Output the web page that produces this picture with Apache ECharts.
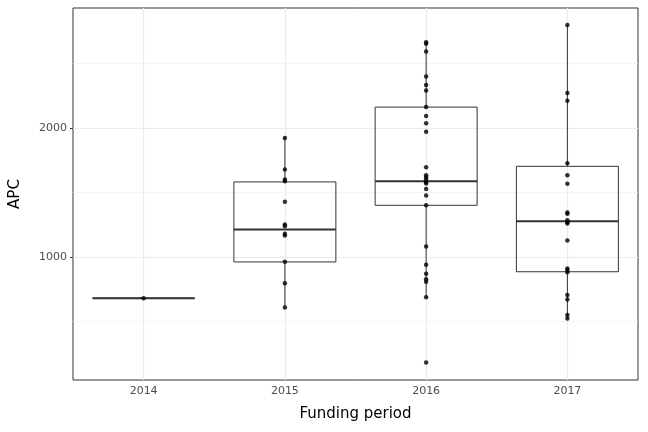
<!DOCTYPE html>
<html>
<head>
<meta charset="UTF-8">
<script src="https://cdn.jsdelivr.net/npm/echarts@6/dist/echarts.min.js"></script>
<style>
  * { margin: 0; padding: 0; }
  #main { width: 648px; height: 432px; }
</style>
</head>
<body>
<div id="main"></div>
<script>
// categories and values
var periods = ['2014', '2015', '2016', '2017'];
var apc2014 = [680];
var apc2015 = [1923, 1678, 1600, 1587, 1428, 1252, 1239, 1180, 1167, 964, 796, 608];
var apc2016 = [2665, 2652, 2592, 2399, 2333, 2291, 2162, 2093, 2036, 1971, 1695, 1633, 1618, 1600,
  1582, 1569, 1528, 1476, 1401, 1082, 941, 871, 827, 809, 688, 183];
var apc2017 = [2799, 2271, 2211, 1726, 1633, 1567, 1345, 1335, 1285, 1270, 1260, 1128, 912, 899,
  883, 705, 670, 551, 523];
// [lower whisker, Q1, median, Q3, upper whisker]
var boxes = [
  [680, 680, 680, 680, 680],
  [608, 962, 1213, 1582, 1923],
  [688, 1401, 1587, 2162, 2665],
  [523, 886, 1278, 1703, 2799]
];
var gridValues = [500, 1000, 1500, 2000, 2500];

var points = [];
[apc2014, apc2015, apc2016, apc2017].forEach(function (arr, i) {
  arr.forEach(function (v) { points.push([i, v]); });
});
var boxData = boxes.map(function (b, i) { return [i].concat(b); });

function renderBox(params, api) {
  var i = api.value(0);
  var half = 51;
  var lo = api.coord([i, api.value(1)]), q1 = api.coord([i, api.value(2)]),
      md = api.coord([i, api.value(3)]), q3 = api.coord([i, api.value(4)]),
      hi = api.coord([i, api.value(5)]);
  var x = lo[0];
  var st = { stroke: '#333', lineWidth: 1, fill: null };
  return {
    type: 'group',
    children: [
      { type: 'line', shape: { x1: x, y1: hi[1], x2: x, y2: q3[1] }, style: st },
      { type: 'line', shape: { x1: x, y1: q1[1], x2: x, y2: lo[1] }, style: st },
      { type: 'rect', shape: { x: x - half, y: q3[1], width: half * 2, height: q1[1] - q3[1] }, style: st },
      { type: 'line', shape: { x1: x - half, y1: md[1], x2: x + half, y2: md[1] }, style: { stroke: '#333', lineWidth: 2 } }
    ]
  };
}

var chart = echarts.init(document.getElementById('main'));
chart.setOption({
  animation: false,
  grid: { left: 70, right: 10, top: 8, bottom: 52, show: true, borderColor: '#333', borderWidth: 1 },
  xAxis: {
    type: 'category', data: periods,
    name: 'Funding period', nameLocation: 'middle', nameGap: 27,
    nameTextStyle: { fontSize: 15, color: '#000', fontFamily: 'DejaVu Sans' },
    axisLine: { show: false },
    axisTick: { alignWithLabel: true, lineStyle: { color: '#333' }, length: 3 },
    axisLabel: { color: '#4d4d4d', fontSize: 11, margin: 6, fontFamily: 'DejaVu Sans' },
    splitLine: { show: false }
  },
  yAxis: {
    type: 'value', min: 47, max: 2930,
    name: 'APC', nameLocation: 'middle', nameGap: 50,
    nameTextStyle: { fontSize: 15, color: '#000', fontFamily: 'DejaVu Sans' },
    axisLine: { show: false },
    axisTick: { show: true, customValues: [1000, 2000], length: 3, lineStyle: { color: '#333' } },
    axisLabel: { customValues: [1000, 2000], formatter: function (v) { return String(v); },
      color: '#4d4d4d', fontSize: 11, margin: 6, fontFamily: 'DejaVu Sans' },
    splitLine: { show: false }
  },
  series: [
    {
      type: 'custom', data: boxData, renderItem: renderBox, z: 3,
      encode: { x: 0, y: [1, 2, 3, 4, 5] },
      markLine: {
        silent: true, symbol: 'none', label: { show: false }, z: 1,
        data: gridValues.map(function (v) {
          return { yAxis: v, lineStyle: { color: v % 1000 === 0 ? '#ebebeb' : '#f3f3f3', width: v % 1000 === 0 ? 1.2 : 0.8, type: 'solid' } };
        }).concat(periods.map(function (p) {
          return { xAxis: p, lineStyle: { color: '#ebebeb', width: 1.2, type: 'solid' } };
        }))
      }
    },
    {
      type: 'scatter', data: points, symbolSize: 4.5, z: 5,
      itemStyle: { color: '#000' }
    }
  ]
});
</script>
</body>
</html>
